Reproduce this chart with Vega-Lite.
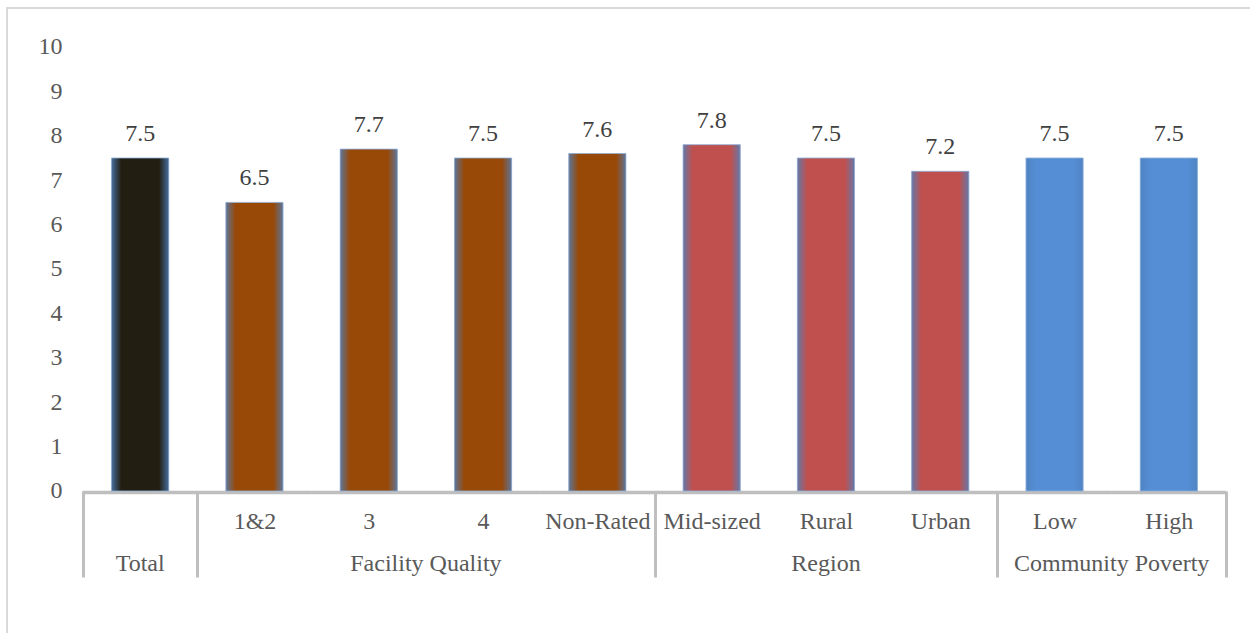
{
  "$schema": "https://vega.github.io/schema/vega-lite/v6.json",
  "width": 1246,
  "height": 628,
  "autosize": "none",
  "padding": {"left": 7, "top": 8, "right": 0, "bottom": 0},
  "background": "white",
  "config": {
    "view": {"stroke": "#d9d9d9", "strokeWidth": 2},
    "font": "Liberation Serif",
    "axis": {"labelFont": "Liberation Serif"},
    "text": {"font": "Liberation Serif"}
  },
  "data": {
    "values": [
      {"group": "Total", "category": "Total", "score": 7.5},
      {"group": "Facility Quality", "category": "1&2", "score": 6.5},
      {"group": "Facility Quality", "category": "3", "score": 7.7},
      {"group": "Facility Quality", "category": "4", "score": 7.5},
      {"group": "Facility Quality", "category": "Non-Rated", "score": 7.6},
      {"group": "Region", "category": "Mid-sized", "score": 7.8},
      {"group": "Region", "category": "Rural", "score": 7.5},
      {"group": "Region", "category": "Urban", "score": 7.2},
      {"group": "Community Poverty", "category": "Low", "score": 7.5},
      {"group": "Community Poverty", "category": "High", "score": 7.5}
    ]
  },
  "encoding": {
    "x": {
      "field": "category",
      "type": "nominal",
      "sort": null,
      "scale": {
        "domain": ["Total", "1&2", "3", "4", "Non-Rated", "Mid-sized", "Rural", "Urban", "Low", "High"],
        "paddingInner": 0,
        "paddingOuter": 0.4506,
        "align": 0.7379
      },
      "axis": {
        "title": null,
        "orient": "bottom",
        "offset": -145,
        "domain": false,
        "tickBand": "extent",
        "tickSize": 86,
        "tickWidth": 3,
        "tickColor": "#bfbfbf",
        "tickOpacity": {
          "condition": {"test": "datum.extra || indexof(['Total', 'Non-Rated', 'Urban', 'High'], datum.value) >= 0", "value": 1},
          "value": 0
        },
        "labelExpr": "datum.value == 'Total' ? '' : datum.label",
        "labelAngle": 0,
        "labelBaseline": "alphabetic",
        "labelPadding": -49,
        "labelFont": "Liberation Serif",
        "labelFontSize": 24,
        "labelColor": "#595959",
        "labelOverlap": false,
        "labelBound": false,
        "labelFlush": false
      }
    }
  },
  "layer": [
    {
      "mark": {"type": "bar", "width": {"band": 1}, "color": "#bfbfbf", "stroke": "#bfbfbf", "strokeWidth": 0.5},
      "encoding": {
        "y": {"datum": 0, "type": "quantitative"},
        "y2": {"datum": -0.068}
      }
    },
    {
      "mark": {"type": "bar", "width": {"band": 0.5}},
      "encoding": {
        "y": {
          "field": "score",
          "type": "quantitative",
          "scale": {"domain": [-3.266, 10.878], "nice": false, "zero": false},
          "axis": {
            "title": null,
            "values": [0, 1, 2, 3, 4, 5, 6, 7, 8, 9, 10],
            "domain": false,
            "ticks": false,
            "grid": false,
            "offset": -76,
            "labelPadding": 21,
            "labelFont": "Liberation Serif",
            "labelFontSize": 24,
            "labelColor": "#595959"
          }
        },
        "color": {
          "field": "group",
          "type": "nominal",
          "scale": {
            "domain": ["Total", "Facility Quality", "Region", "Community Poverty"],
            "range": ["#221e12", "#984807", "#c0504d", "#558ed5"]
          },
          "legend": null
        }
      }
    },
    {
      "mark": {
        "type": "bar",
        "width": {"band": 0.5},
        "fill": {
          "gradient": "linear",
          "x1": 0, "y1": 0, "x2": 1, "y2": 0,
          "stops": [
            {"offset": 0, "color": "rgba(79,129,189,0.8)"},
            {"offset": 0.17, "color": "rgba(79,129,189,0)"},
            {"offset": 0.83, "color": "rgba(79,129,189,0)"},
            {"offset": 1, "color": "rgba(79,129,189,0.8)"}
          ]
        },
        "stroke": "#8fb1dc",
        "strokeWidth": 1,
        "strokeOpacity": 0.8
      },
      "encoding": {
        "y": {"field": "score", "type": "quantitative"}
      }
    },
    {
      "mark": {"type": "text", "baseline": "alphabetic", "dy": -17, "font": "Liberation Serif", "fontSize": 24, "color": "#404040"},
      "encoding": {
        "y": {"field": "score", "type": "quantitative"},
        "text": {"field": "score", "type": "quantitative", "format": ".1f"}
      }
    },
    {
      "transform": [
        {"joinaggregate": [{"op": "count", "as": "n"}], "groupby": ["group"]},
        {"window": [{"op": "row_number", "as": "k"}], "groupby": ["group"]},
        {"filter": "datum.n % 2 == 1 && datum.k == (datum.n + 1) / 2"}
      ],
      "mark": {"type": "text", "baseline": "alphabetic", "align": "center", "font": "Liberation Serif", "fontSize": 24, "color": "#595959"},
      "encoding": {
        "x": {"field": "category", "type": "nominal", "sort": null, "bandPosition": 0.5, "title": null},
        "y": {"datum": -1.8},
        "text": {"field": "group"}
      }
    },
    {
      "transform": [
        {"joinaggregate": [{"op": "count", "as": "n"}], "groupby": ["group"]},
        {"window": [{"op": "row_number", "as": "k"}], "groupby": ["group"]},
        {"filter": "datum.n % 2 == 0 && datum.k == datum.n / 2 + 1"}
      ],
      "mark": {"type": "text", "baseline": "alphabetic", "align": "center", "font": "Liberation Serif", "fontSize": 24, "color": "#595959"},
      "encoding": {
        "x": {"field": "category", "type": "nominal", "sort": null, "bandPosition": 0, "title": null},
        "y": {"datum": -1.8},
        "text": {"field": "group"}
      }
    }
  ]
}
